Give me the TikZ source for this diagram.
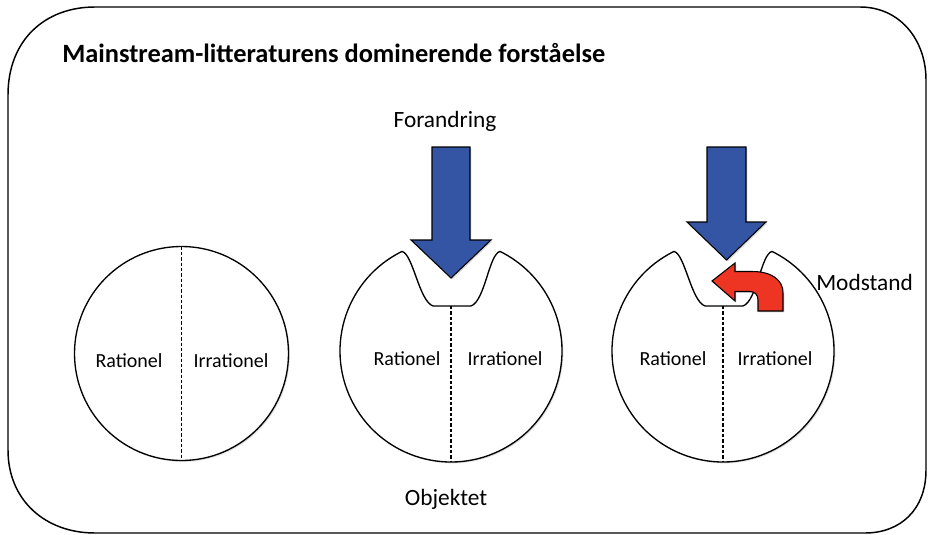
\documentclass[tikz,border=0pt]{standalone}
\usepackage{fontspec}
\setmainfont{Carlito}
\usetikzlibrary{shadows}
\definecolor{arrowblue}{HTML}{3455A4}
\definecolor{arrowred}{HTML}{EE3524}
\tikzset{
  outline/.style={draw=black, line width=1.1pt},
  body/.style={draw=black, line width=1pt, fill=white, drop shadow={shadow xshift=1pt, shadow yshift=-1pt, opacity=0.25}},
  divider/.style={draw=black, line width=0.8pt, dash pattern=on 2.5pt off 1.5pt},
  bigarrow/.style={draw=black, line width=0.8pt, fill=arrowblue, drop shadow={shadow xshift=1pt, shadow yshift=-1pt, opacity=0.3}},
  redarrow/.style={draw=black, line width=0.8pt, fill=arrowred, drop shadow={shadow xshift=1pt, shadow yshift=-1pt, opacity=0.3}},
  halflabel/.style={font=\fontsize{15}{18}\selectfont, anchor=base, inner sep=0pt},
  biglabel/.style={font=\fontsize{17.5}{21}\selectfont, inner sep=0pt},
}
\begin{document}
\begin{tikzpicture}[x=0.75pt,y=-0.75pt]
\useasboundingbox (0,0) rectangle (931,535);
% outer frame
\draw[outline, fill=white] (8,95) .. controls (8,40) and (45,7) .. (95,7) -- (860,7)
  .. controls (900,7) and (926,40) .. (926,80) -- (926,470)
  .. controls (926,510) and (900,533) .. (865,533) -- (95,533)
  .. controls (45,533) and (8,500) .. (8,450) -- cycle;
\node[font=\bfseries\fontsize{19.8}{24}\selectfont, anchor=base west, inner sep=0pt] (title) at (62,63) {Mainstream-litteraturens dominerende forståelse};

% circle 1
\draw[body] (181.5,353.5) circle[radius=107];
\coordinate (c1t) at (181.5,246.5);
\coordinate (c1b) at (181.5,460.5);
\draw[divider] (c1t) -- (c1b);
\node[halflabel] (r1) at (129,367) {Rationel};
\node[halflabel] (i1) at (231,367) {Irrationel};

% shape 2
\begin{scope}[shift={(451,351)}]
\draw[body] (-49,-99.6) arc[start angle=243.8, end angle=-63.8, radius=111]
  .. controls (38,-97) and (34,-50) .. (20,-45) -- (-18,-45)
  .. controls (-32,-50) and (-38,-97) .. cycle;
\coordinate (c2t) at (0,-45);
\coordinate (c2b) at (0,111);
\end{scope}
\draw[divider] (c2t) -- (c2b);
\node[halflabel] (r2) at (407,365) {Rationel};
\node[halflabel] (i2) at (505,365) {Irrationel};

% shape 3
\begin{scope}[shift={(723,351)}]
\draw[body] (-49,-99.6) arc[start angle=243.8, end angle=-63.8, radius=111]
  .. controls (38,-97) and (34,-50) .. (20,-45) -- (-18,-45)
  .. controls (-32,-50) and (-38,-97) .. cycle;
\coordinate (c3t) at (0,-45);
\coordinate (c3b) at (0,111);
\end{scope}
\draw[divider] (c3t) -- (c3b);
\node[halflabel] (r3) at (673,365) {Rationel};
\node[halflabel] (i3) at (775,365) {Irrationel};

% blue arrows
\draw[bigarrow] (432,147) -- (470,147) -- (470,240) -- (491,240) -- (451,278) -- (411,240) -- (432,240) -- cycle;
\draw[bigarrow] (707,147) -- (746,147) -- (746,222) -- (766,222) -- (726.5,260) -- (687,222) -- (707,222) -- cycle;

% red arrow
\draw[redarrow] (712,281) -- (735,263) -- (735,271.5) -- (752,271.5)
  .. controls (772,271.5) and (783,280) .. (783,293) -- (783,311) -- (758,311) -- (758,300)
  .. controls (758,295) and (755,291.5) .. (750,291.5) -- (735,291.5) -- (735,301) -- cycle;

% labels
\node[biglabel, anchor=base] (forandring) at (445,127) {Forandring};
\node[biglabel, anchor=base west] (modstand) at (816,290) {Modstand};
\node[biglabel, anchor=base] (objektet) at (446,505) {Objektet};
\end{tikzpicture}
\end{document}
